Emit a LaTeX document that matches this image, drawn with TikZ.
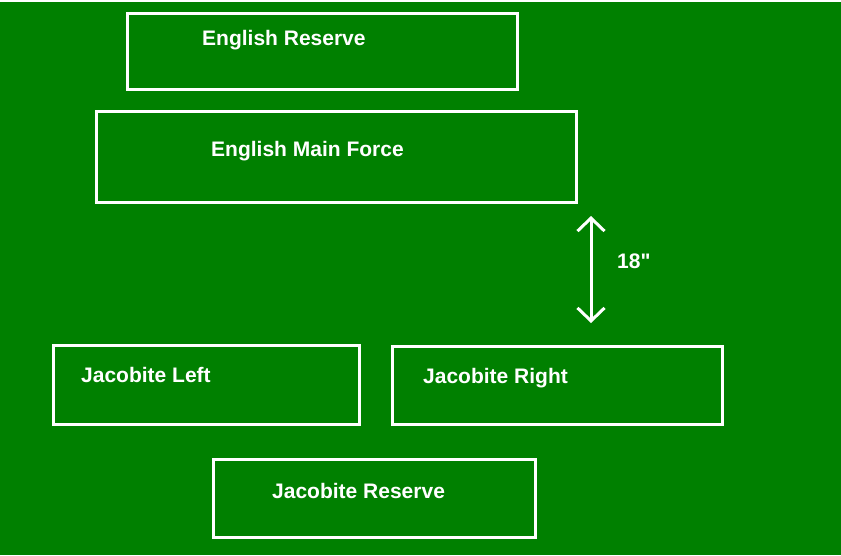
\documentclass[tikz,border=0pt]{standalone}
\usepackage{fontspec}
\setmainfont{Liberation Sans}[Ligatures=TeXOff]
\usetikzlibrary{arrows.meta,positioning}
\definecolor{field}{RGB}{0,128,0}

\begin{document}
\begin{tikzpicture}[x=1pt,y=-1pt]
                    \tikzstyle{every node}+=[inner sep=0pt,text=white,font=\bfseries\fontsize{21}{24}\selectfont]
                    \fill [field] (0,0) rectangle (841,555);
                    \useasboundingbox (0,0) rectangle (841,555);
                    \fill [white] (0,0) rectangle (841,1.5);
                    \draw [white, line width=3pt] (127,13) rectangle (517,89);
                    \node [anchor=west] (engres) at (202,40) {English Reserve};
                    \draw [white, line width=3pt] (96,111) rectangle (576,202);
                    \node [anchor=west] (engmain) at (211,151) {English Main Force};
                    \coordinate (gaptop) at (591,216);
                    \coordinate (gapbot) at (591,323);
                    \draw [white, line width=3pt, {Straight Barb[length=13pt,width=27pt]}-{Straight Barb[length=13pt,width=27pt]}] (gaptop) -- (gapbot);
                    \node [anchor=west] (gap) at (617,261) {18"};
                    \draw [white, line width=3pt] (53,345) rectangle (359,424);
                    \node [anchor=west] (jacleft) at (81,375) {Jacobite Left};
                    \draw [white, line width=3pt] (392,346) rectangle (722,424);
                    \node [anchor=west] (jacright) at (423,378) {Jacobite Right};
                    \draw [white, line width=3pt] (213,459) rectangle (535,537);
                    \node [anchor=west] (jacres) at (272,491) {Jacobite Reserve};
\end{tikzpicture}
\end{document}
